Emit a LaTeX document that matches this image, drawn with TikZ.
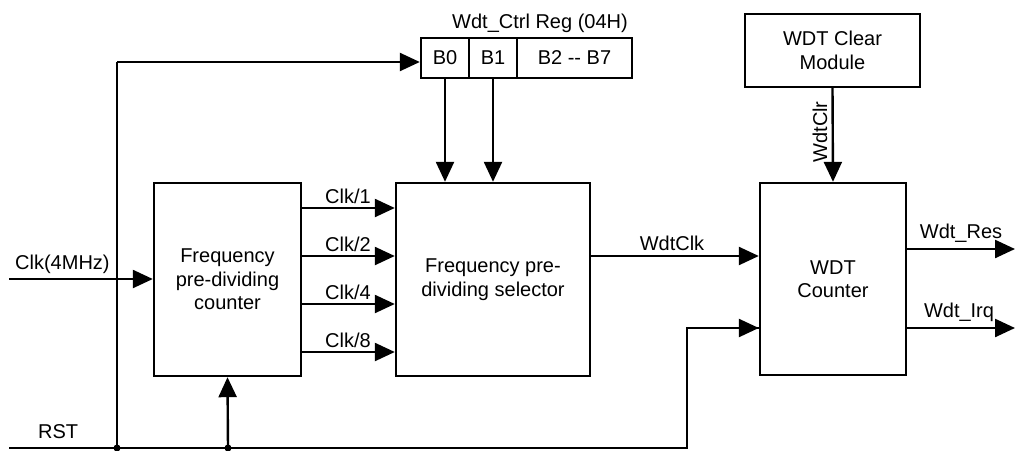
\documentclass[tikz,border=0pt]{standalone}
\usepackage{fontspec}
\setmainfont{Liberation Sans}
\usetikzlibrary{arrows.meta}
\begin{document}
\begin{tikzpicture}[x=1pt,y=-1pt,
  wire/.style={line width=2.4pt},
  arr/.style={wire,-{Triangle[length=20pt,width=18pt]}},
  blk/.style={draw,line width=2.4pt,inner sep=0pt,align=center,font=\fontsize{20}{23.5}\selectfont},
  lbl/.style={font=\fontsize{20}{24}\selectfont,inner sep=0pt,anchor=base},
  dot/.style={circle,fill,inner sep=0pt,minimum size=7pt}]
\useasboundingbox (0,0) rectangle (1015,450);
% blocks
\node[blk,minimum width=147pt,minimum height=193pt] (cnt) at (227.5,279.5) {Frequency\\pre-dividing\\counter};
\node[blk,minimum width=194pt,minimum height=193pt] (sel) at (493,279.5) {Frequency pre-\\dividing selector};
\node[blk,minimum width=146pt,minimum height=192pt] (wdt) at (833,279) {WDT\\Counter};
\node[blk,minimum width=175pt,minimum height=73pt] (clr) at (832.5,50.5) {WDT Clear\\Module};
\node[blk,minimum width=48pt,minimum height=40pt] (b0) at (445,58) {B0};
\node[blk,minimum width=48pt,minimum height=40pt] (b1) at (493,58) {B1};
\node[blk,minimum width=115pt,minimum height=40pt] (b2) at (574.5,58) {B2 -{}- B7};
\node[lbl] (regt) at (540,28) {Wdt\_Ctrl Reg (04H)};
% coordinates
\coordinate (clkin) at (9,279);
\coordinate (rsts) at (9,448);
\coordinate (j1) at (117,448);
\coordinate (j2) at (228,448);
\coordinate (rstc) at (687,448);
\coordinate (regin) at (117,62);
\coordinate (res) at (1015,249);
\coordinate (irq) at (1015,328);
% Clk input
\draw[arr] (clkin) -- (cnt.west |- clkin);
\node[lbl,anchor=base west] (clklbl) at (15,269) {Clk(4MHz)};
% divider outputs
\foreach \y/\t in {208/1,256/2,304/4,352/8}{
  \draw[arr] (cnt.east |- 0,\y) -- (sel.west |- 0,\y);
  \node[lbl] at (348,\y-5) {Clk/\t};
}
% register to selector
\draw[arr] (b0.south) -- (b0.south |- sel.north);
\draw[arr] (b1.south) -- (b1.south |- sel.north);
% RST
\draw[wire] (rsts) -- (rstc) |- (wdt.west |- 0,328) coordinate (wrst);
\draw[arr] (rstc |- wrst) -- (wrst);
\node[lbl,anchor=base west] (rstlbl) at (38,438) {RST};
\draw[wire] (j1) -- (regin);
\draw[arr] (regin) -- (b0.west |- regin);
\draw[arr] (j2) -- (cnt.south);
\node[dot] at (j1) {};
\node[dot] at (j2) {};
% WdtClk
\draw[arr] (sel.east |- 0,256) -- (wdt.west |- 0,256);
\node[lbl] at (672,250) {WdtClk};
% WdtClr
\draw[arr] (clr.south) -- (wdt.north);
\node[lbl,anchor=center,rotate=90] at (820,132) {WdtClr};
% outputs
\draw[arr] (wdt.east |- res) -- (res);
\node[lbl] at (961,238) {Wdt\_Res};
\draw[arr] (wdt.east |- irq) -- (irq);
\node[lbl] at (959,317) {Wdt\_Irq};
\end{tikzpicture}
\end{document}
